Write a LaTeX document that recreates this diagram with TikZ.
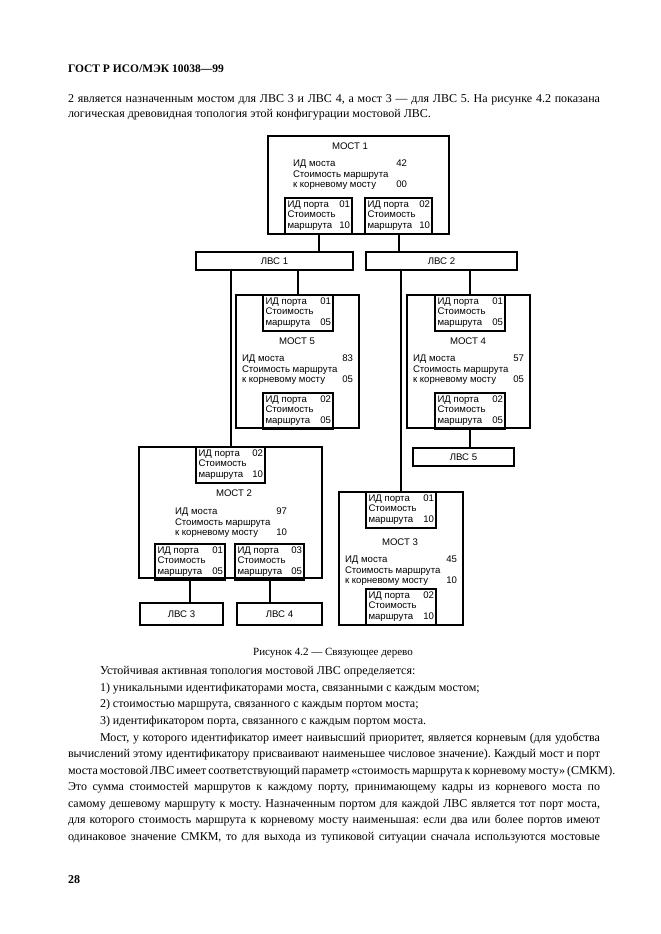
\documentclass[tikz,border=0pt]{standalone}
\usepackage{fontspec}
\setmainfont{Liberation Serif}
\newfontfamily\dsans{Liberation Sans}
\frenchspacing
\newcommand\pbx[6]{%
  \node[pbox, minimum width=#4pt] (#1) at (#2,#3) {};
  \node[dtxt, anchor=base west] (#1-a) at ([xshift=2.5pt,yshift=-9pt]#1.north west) {ИД порта};
  \node[dtxt, anchor=base east] (#1-b) at ([xshift=-2pt,yshift=-9pt]#1.north east) {#5};
  \node[dtxt, anchor=base west] (#1-c) at ([xshift=2.5pt,yshift=-19.5pt]#1.north west) {Стоимость};
  \node[dtxt, anchor=base west] (#1-d) at ([xshift=2.5pt,yshift=-30pt]#1.north west) {маршрута};
  \node[dtxt, anchor=base east] (#1-e) at ([xshift=-2pt,yshift=-30pt]#1.north east) {#6};
}
\newcommand\bri[6]{%
  \node[dtxt, anchor=base west] (#1-a) at (#2,#3+3.5) {ИД моста};
  \node[dtxt, anchor=base east] (#1-b) at (#4,#3+3.5) {#5};
  \node[dtxt, anchor=base west] (#1-c) at (#2,#3+14) {Стоимость маршрута};
  \node[dtxt, anchor=base west] (#1-d) at (#2,#3+24.5) {к корневому мосту};
  \node[dtxt, anchor=base east] (#1-e) at (#4,#3+24.5) {#6};
}
\begin{document}
\begin{tikzpicture}[x=1pt,y=-1pt,
  box/.style={draw, line width=1.8pt, inner sep=0pt, outer sep=0pt, anchor=north west},
  pbox/.style={box, minimum height=36pt},
  lbox/.style={box, font=\dsans\fontsize{9.6}{11}\selectfont},
  dtxt/.style={font=\dsans\fontsize{9.6}{10.5}\selectfont, inner sep=0pt, outer sep=0pt},
  btxt/.style={font=\fontsize{12}{14}\selectfont, inner sep=0pt, outer sep=0pt, anchor=base west},
  conn/.style={line width=2pt}]
\useasboundingbox[fill=white] (0,0) rectangle (661,934);

% header and text
\node[btxt, font=\bfseries\fontsize{11.5}{14}\selectfont] (hdr) at (68,72) {ГОСТ Р ИСО/МЭК 10038—99};
\node[btxt] (t1) at (68,102) {\makebox[532pt][s]{2 является назначенным мостом для ЛВС 3 и ЛВС 4, а мост 3 — для ЛВС 5. На рисунке 4.2 показана}};
\node[btxt] (t2) at (68,117) {логическая древовидная топология этой конфигурации мостовой ЛВС.};

% MOCT 1
\node[box, minimum width=181pt, minimum height=98pt] (m1) at (268,136) {};
\node[dtxt] (m1t) at (350,146) {МОСТ 1};
\bri{m1i}{293}{163}{407}{42}{00}
\pbx{m1p1}{285}{198}{67}{01}{10}
\pbx{m1p2}{365}{198}{67}{02}{10}

% LANs 1,2
\node[lbox, minimum width=157pt, minimum height=18pt] (l1) at (196,252) {ЛВС 1};
\node[lbox, minimum width=151pt, minimum height=18pt] (l2) at (366,252) {ЛВС 2};

% MOCT 5
\node[box, minimum width=123pt, minimum height=133pt] (m5) at (236,295) {};
\pbx{m5p1}{263}{295}{70}{01}{05}
\node[dtxt] (m5t) at (297,341) {МОСТ 5};
\bri{m5i}{242}{358}{353}{83}{05}
\pbx{m5p2}{263}{393}{70}{02}{05}

% MOCT 4
\node[box, minimum width=123pt, minimum height=133pt] (m4) at (407,295) {};
\pbx{m4p1}{435}{295}{70}{01}{05}
\node[dtxt] (m4t) at (468,341) {МОСТ 4};
\bri{m4i}{413}{358}{524}{57}{05}
\pbx{m4p2}{435}{393}{70}{02}{05}
\node[lbox, minimum width=101pt, minimum height=18pt] (l5) at (413,448) {ЛВС 5};

% MOCT 2
\node[box, minimum width=183pt, minimum height=131pt] (m2) at (139,447) {};
\pbx{m2p2}{196}{447}{69}{02}{10}
\node[dtxt] (m2t) at (234,493) {МОСТ 2};
\bri{m2i}{175}{511}{287}{97}{10}
\pbx{m2p1}{155}{544}{70}{01}{05}
\pbx{m2p3}{235}{544}{69}{03}{05}
\node[lbox, minimum width=83pt, minimum height=22pt] (l3) at (140,603) {ЛВС 3};
\node[lbox, minimum width=85pt, minimum height=22pt] (l4) at (237,603) {ЛВС 4};

% MOCT 3
\node[box, minimum width=124pt, minimum height=133pt] (m3) at (339,492) {};
\pbx{m3p1}{366}{492}{70}{01}{10}
\node[dtxt] (m3t) at (400,542) {МОСТ 3};
\bri{m3i}{345}{559}{457}{45}{10}
\pbx{m3p2}{366}{589}{70}{02}{10}

% connectors
\draw[conn] (m1p1.south) -- (m1p1.south |- l1.north);
\draw[conn] (m1p2.south) -- (m1p2.south |- l2.north);
\draw[conn] (m5p1.north |- l1.south) -- (m5p1.north);
\draw[conn] (m2p2.north |- l1.south) -- (m2p2.north);
\draw[conn] (m4p1.north |- l2.south) -- (m4p1.north);
\draw[conn] (m3p1.north |- l2.south) -- (m3p1.north);
\draw[conn] (m4p2.south) -- (m4p2.south |- l5.north);
\draw[conn] (m2p1.south) -- (m2p1.south |- l3.north);
\draw[conn] (m2p3.south) -- (m2p3.south |- l4.north);

% caption and text
\node[btxt, font=\fontsize{11}{13}\selectfont, anchor=base] (cap) at (333,655) {Рисунок 4.2 — Связующее дерево};
\node[btxt] (b1) at (100,674) {Устойчивая активная топология мостовой ЛВС определяется:};
\node[btxt] (b2) at (100,691) {1) уникальными идентификаторами моста, связанными с каждым мостом;};
\node[btxt] (b3) at (100,707) {2) стоимостью маршрута, связанного с каждым портом моста;};
\node[btxt] (b4) at (100,724) {3) идентификатором порта, связанного с каждым портом моста.};
\node[btxt] (b5) at (100,741) {\makebox[500pt][s]{Мост, у которого идентификатор имеет наивысший приоритет, является корневым (для удобства}};
\node[btxt] (b6) at (68,757) {\makebox[532pt][s]{вычислений этому идентификатору присваивают наименьшее числовое значение). Каждый мост и порт}};
\node[btxt] (b7) at (68,774) {\makebox[532pt][s]{моста мостовой ЛВС имеет соответствующий параметр «стоимость маршрута к корневому мосту» (СМКМ).}};
\node[btxt] (b8) at (68,790) {\makebox[532pt][s]{Это сумма стоимостей маршрутов к каждому порту, принимающему кадры из корневого моста по}};
\node[btxt] (b9) at (68,807) {\makebox[532pt][s]{самому дешевому маршруту к мосту. Назначенным портом для каждой ЛВС является тот порт моста,}};
\node[btxt] (b10) at (68,823) {\makebox[532pt][s]{для которого стоимость маршрута к корневому мосту наименьшая: если два или более портов имеют}};
\node[btxt] (b11) at (68,840) {\makebox[532pt][s]{одинаковое значение СМКМ, то для выхода из тупиковой ситуации сначала используются мостовые}};
\node[btxt, font=\bfseries\fontsize{12}{14}\selectfont] (pg) at (68,883) {28};
\end{tikzpicture}
\end{document}
